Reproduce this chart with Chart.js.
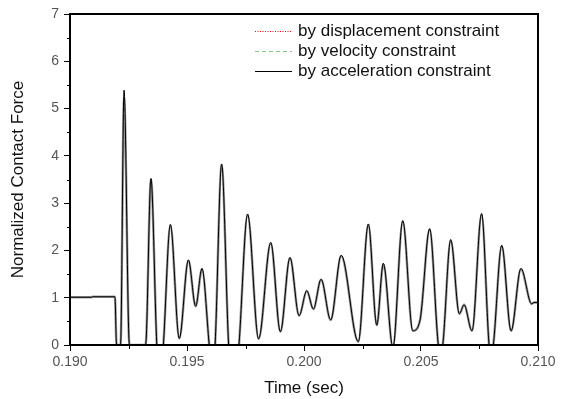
<!DOCTYPE html>
<html>
<head>
<meta charset="utf-8">
<script src="https://cdn.jsdelivr.net/npm/chart.js@4"></script>
<style>html, body { margin: 0; padding: 0; background: #fff; }</style>
</head>
<body>
<canvas id="myChart" width="571" height="399"></canvas>
<script>
// values (peaks, troughs and zero crossings)
const timeSec = [
    0.19000, 0.19093, 0.19095, 0.19192, 0.19199, 0.19216, 0.19231, 0.19254, 0.19323, 0.19346,
    0.19371, 0.19385, 0.19399, 0.19429, 0.19467, 0.19506, 0.19537, 0.19564, 0.19595, 0.19607,
    0.19620, 0.19648, 0.19678, 0.19701, 0.19722, 0.19759, 0.19806, 0.19858, 0.19899, 0.19940,
    0.19979, 0.20012, 0.20040, 0.20073, 0.20114, 0.20159, 0.20232, 0.20275, 0.20311, 0.20339,
    0.20380, 0.20422, 0.20465, 0.20496, 0.20537, 0.20574, 0.20583, 0.20593, 0.20627, 0.20664,
    0.20684, 0.20718, 0.20759, 0.20791, 0.20799, 0.20809, 0.20845, 0.20885, 0.20927, 0.20973,
    0.20983, 0.21000
];
const accelForce = [
    1.01, 1.01, 1.02, 1.02, 0.00, 0.00, 5.39, 0.00, 0.00, 3.52,
    0.00, -0.80, 0.00, 2.55, 0.14, 1.80, 0.82, 1.62, 0.00, -0.60,
    0.00, 3.83, 0.00, -1.00, 0.00, 2.77, 0.13, 2.17, 0.28, 1.85,
    0.62, 1.15, 0.76, 1.39, 0.53, 1.90, 0.07, 2.56, 0.42, 1.73,
    -0.05, 2.63, 0.30, 0.53, 2.46, 0.00, -0.15, 0.00, 2.23, 0.66,
    0.85, 0.30, 2.78, 0.00, -0.20, 0.00, 2.11, 0.30, 1.62, 0.87,
    0.90, 0.90
];
const velForce = [
    1.01, 1.01, 1.02, 1.02, 0.00, 0.00, 5.25, 0.00, 0.00, 3.50,
    0.00, -0.80, 0.00, 2.53, 0.14, 1.78, 0.82, 1.60, 0.00, -0.60,
    0.00, 3.80, 0.00, -1.00, 0.00, 2.75, 0.13, 2.15, 0.28, 1.84,
    0.62, 1.14, 0.76, 1.38, 0.53, 1.88, 0.07, 2.54, 0.42, 1.71,
    -0.05, 2.61, 0.30, 0.53, 2.44, 0.00, -0.15, 0.00, 2.21, 0.66,
    0.85, 0.30, 2.76, 0.00, -0.20, 0.00, 2.09, 0.30, 1.60, 0.87,
    0.90, 0.90
];
const dispForce = [
    1.01, 1.01, 1.02, 1.02, 0.00, 0.00, 5.25, 0.00, 0.00, 3.50,
    0.00, -0.80, 0.00, 2.53, 0.14, 1.78, 0.82, 1.60, 0.00, -0.60,
    0.00, 3.80, 0.00, -1.00, 0.00, 2.75, 0.13, 2.15, 0.28, 1.84,
    0.62, 1.14, 0.76, 1.38, 0.53, 1.88, 0.07, 2.54, 0.42, 1.71,
    -0.05, 2.61, 0.30, 0.53, 2.44, 0.00, -0.15, 0.00, 2.21, 0.66,
    0.85, 0.30, 2.76, 0.00, -0.20, 0.00, 2.09, 0.30, 1.60, 0.87,
    0.90, 0.90
];

const seriesLabels = ['by displacement constraint', 'by velocity constraint', 'by acceleration constraint'];
const xTicks  = [0.190, 0.195, 0.200, 0.205, 0.210];
const xMinor  = [0.1925, 0.1975, 0.2025, 0.2075];
const yTicks  = [0, 1, 2, 3, 4, 5, 6, 7];
const yMinor  = [0.5, 1.5, 2.5, 3.5, 4.5, 5.5, 6.5];

const FONT = "'Liberation Sans', Arial, sans-serif";

const toPoints = (vals) => vals.map((v, i) => ({ x: timeSec[i], y: v }));

// legend sample styles (velocity sample is green in the legend)
const legendStyle = [
    { color: '#ff0000', dash: [1, 1.5] },
    { color: '#80c880', dash: [4, 3] },
    { color: '#000000', dash: [] }
];

const framePlugin = {
    id: 'frame',
    afterDraw(chart) {
        const { ctx, chartArea: a, scales } = chart;
        ctx.save();
        // minor ticks
        ctx.strokeStyle = '#000';
        ctx.lineWidth = 1;
        ctx.beginPath();
        xMinor.forEach(v => {
            const px = Math.round(scales.x.getPixelForValue(v)) + 0.5;
            ctx.moveTo(px, a.bottom);
            ctx.lineTo(px, a.bottom + 4);
        });
        yMinor.forEach(v => {
            const py = Math.round(scales.y.getPixelForValue(v)) + 0.5;
            ctx.moveTo(a.left - 3, py);
            ctx.lineTo(a.left, py);
        });
        ctx.stroke();
        // box
        ctx.lineWidth = 2;
        ctx.strokeRect(a.left, a.top, a.right - a.left, a.bottom - a.top);

        // legend inside the plot
        ctx.font = '17px ' + FONT;
        ctx.textBaseline = 'middle';
        ctx.fillStyle = '#111';
        const rows = [31, 51, 71];
        chart.data.datasets.forEach((ds, i) => {
            const y = rows[i] + 0.5;
            ctx.beginPath();
            ctx.lineWidth = 1;
            ctx.strokeStyle = legendStyle[i].color;
            ctx.setLineDash(legendStyle[i].dash);
            ctx.moveTo(255, y);
            ctx.lineTo(292, y);
            ctx.stroke();
            ctx.setLineDash([]);
            ctx.fillText(ds.label, 298, rows[i]);
        });
        ctx.restore();
    }
};

const config = {
    type: 'line',
    data: {
        datasets: [
            {
                label: seriesLabels[0],
                data: toPoints(dispForce),
                borderColor: '#ff0000',
                borderWidth: 1,
                borderDash: [1, 2],
                order: 2
            },
            {
                label: seriesLabels[1],
                data: toPoints(velForce),
                borderColor: '#9a9a9a',
                borderWidth: 2.5,
                order: 1
            },
            {
                label: seriesLabels[2],
                data: toPoints(accelForce),
                borderColor: '#000000',
                borderWidth: 1,
                order: 0
            }
        ]
    },
    options: {
        responsive: false,
        animation: false,
        layout: { padding: { top: 14, right: 33, left: 0, bottom: 0 } },
        elements: {
            point: { radius: 0 },
            line: { cubicInterpolationMode: 'monotone', fill: false }
        },
        plugins: {
            legend: { display: false },
            tooltip: { enabled: false }
        },
        scales: {
            x: {
                type: 'linear',
                min: 0.19,
                max: 0.21,
                afterBuildTicks: (scale) => { scale.ticks = xTicks.map(v => ({ value: v })); },
                afterFit: (scale) => { scale.height = 54; },
                ticks: {
                    callback: (v) => v.toFixed(3),
                    color: '#555',
                    font: { family: FONT, size: 14 },
                    padding: 3,
                    maxRotation: 0,
                    autoSkip: false
                },
                grid: { drawOnChartArea: false, tickLength: 6, color: '#000', tickColor: '#000' },
                border: { color: '#000', width: 2 },
                title: {
                    display: true,
                    text: 'Time (sec)',
                    color: '#111',
                    font: { family: FONT, size: 17 },
                    padding: { top: 1, bottom: 0 }
                }
            },
            y: {
                min: 0,
                max: 7,
                afterBuildTicks: (scale) => { scale.ticks = yTicks.map(v => ({ value: v })); },
                afterFit: (scale) => { scale.width = 70; },
                ticks: {
                    color: '#555',
                    font: { family: FONT, size: 14 },
                    padding: 5
                },
                grid: { drawOnChartArea: false, tickLength: 6, color: '#000', tickColor: '#000' },
                border: { color: '#000', width: 2 },
                title: {
                    display: true,
                    text: 'Normalized Contact Force',
                    color: '#111',
                    font: { family: FONT, size: 17 },
                    padding: { top: 8, bottom: 0 }
                }
            }
        }
    },
    plugins: [framePlugin]
};

const myChart = new Chart(document.getElementById('myChart').getContext('2d'), config);
</script>
</body>
</html>
